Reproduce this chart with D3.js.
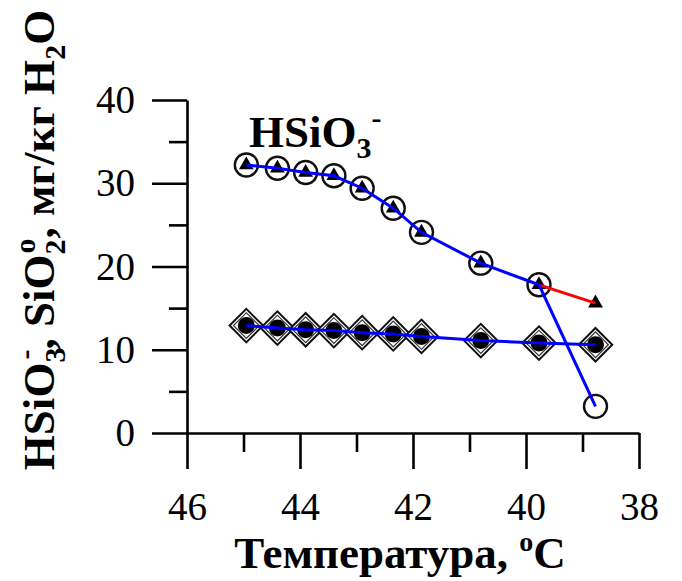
<!DOCTYPE html>
<html>
<head>
<meta charset="utf-8">
<script src="https://cdn.jsdelivr.net/npm/d3@7/dist/d3.min.js"></script>
<style>
  html, body { margin: 0; padding: 0; background: #fff; }
  svg { display: block; }
</style>
</head>
<body>
<svg id="chart" width="682" height="581"></svg>
<script>
// Temperature of each sample, °C
const temps = [44.95, 44.4, 43.9, 43.4, 42.9, 42.35, 41.85, 40.8, 39.77, 38.77];
// HSiO3- concentration, mg/kg H2O (open circles)
const hsio3Open = [32.2, 31.8, 31.3, 30.9, 29.4, 27.0, 24.1, 20.4, 17.8, 3.2];
// HSiO3- concentration, mg/kg H2O (filled triangles)
const hsio3Tri = [32.2, 31.8, 31.3, 30.9, 29.4, 27.0, 24.1, 20.4, 17.8, 15.6];
// SiO2° concentration, mg/kg H2O (diamonds)
const sio2 = [12.9, 12.6, 12.4, 12.3, 12.05, 11.9, 11.6, 11.1, 10.8, 10.6];

const xMajor = [46, 44, 42, 40, 38];
const xMinor = [45, 43, 41, 39];
const yMajor = [0, 10, 20, 30, 40];
const yMinor = [5, 15, 25, 35];

const FONT = "'Liberation Serif'";

const svg = d3.select("#chart");

const x = d3.scaleLinear().domain([46, 38]).range([187, 639]);
const y = d3.scaleLinear().domain([0, 40]).range([433, 100]);

const axisStroke = 2.6;

function styleAxis(g) {
  g.attr("font-family", null);
  g.selectAll("path.domain").attr("stroke", "#000").attr("stroke-width", axisStroke);
  g.selectAll(".tick line").attr("stroke", "#000").attr("stroke-width", axisStroke);
}

function styleTickText(sel) {
  sel.style("font-family", FONT).style("font-size", "39px").style("fill", "#000");
}

// X axis: minor then major ticks (pointing down)
const gxMinor = svg.append("g").attr("transform", `translate(0,${y(0)})`)
  .call(d3.axisBottom(x).tickValues(xMinor).tickSize(19).tickSizeOuter(0).tickFormat(""));
styleAxis(gxMinor);
gxMinor.select("path.domain").remove();

const gx = svg.append("g").attr("transform", `translate(0,${y(0)})`)
  .call(d3.axisBottom(x).tickValues(xMajor).tickSize(36).tickSizeOuter(0).tickFormat(d3.format("d")));
styleAxis(gx);
gx.selectAll(".tick text").attr("y", 87).attr("dy", null).call(styleTickText);

// Y axis: minor then major ticks (pointing left)
const gyMinor = svg.append("g").attr("transform", `translate(${x(46)},0)`)
  .call(d3.axisLeft(y).tickValues(yMinor).tickSize(18).tickSizeOuter(0).tickFormat(""));
styleAxis(gyMinor);
gyMinor.select("path.domain").remove();

const gy = svg.append("g").attr("transform", `translate(${x(46)},0)`)
  .call(d3.axisLeft(y).tickValues(yMajor).tickSize(35).tickSizeOuter(0).tickFormat(d3.format("d")));
styleAxis(gy);
gy.selectAll(".tick text").attr("x", -52).attr("dy", 12.5).call(styleTickText);

// Data points
const open = temps.map((t, i) => ({ t, v: hsio3Open[i] }));
const tri = temps.map((t, i) => ({ t, v: hsio3Tri[i] }));
const dia = temps.map((t, i) => ({ t, v: sio2[i] }));

// Diamond markers with a filled dot inside
const diamondOuter = d3.symbol().type(d3.symbolSquare).size(560);
const diamondInner = d3.symbol().type(d3.symbolSquare).size(330);
const dg = svg.append("g").selectAll("g").data(dia).join("g")
  .attr("transform", d => `translate(${x(d.t)},${y(d.v)}) rotate(45)`);
dg.append("path").attr("d", diamondOuter()).attr("fill", "#fff").attr("stroke", "#111").attr("stroke-width", 2);
dg.append("path").attr("d", diamondInner()).attr("fill", "#fff").attr("stroke", "#333").attr("stroke-width", 1.2);
dg.append("circle").attr("r", 8.5).attr("fill", "#000");

// Open circles
svg.append("g").selectAll("circle").data(open).join("circle")
  .attr("cx", d => x(d.t)).attr("cy", d => y(d.v)).attr("r", 11.5)
  .attr("fill", "none").attr("stroke", "#111").attr("stroke-width", 2.4);

// Filled triangles
const triSym = d3.symbol().type(d3.symbolTriangle).size(95);
svg.append("g").selectAll("path").data(tri).join("path")
  .attr("d", triSym())
  .attr("transform", d => `translate(${x(d.t)},${y(d.v)})`)
  .attr("fill", "#000");

// Lines
const line = d3.line().x(d => x(d.t)).y(d => y(d.v));
svg.append("path").datum(tri.slice(-2)).attr("d", line)
  .attr("fill", "none").attr("stroke", "#ff0000").attr("stroke-width", 3);
svg.append("path").datum(open).attr("d", line)
  .attr("fill", "none").attr("stroke", "#0000ff").attr("stroke-width", 3);
svg.append("path").datum(dia).attr("d", line)
  .attr("fill", "none").attr("stroke", "#0000ff").attr("stroke-width", 3);

function bold(sel, size) {
  return sel.style("font-family", FONT).style("font-size", size + "px")
    .style("font-weight", "bold").style("fill", "#000");
}

// Series label
const lab = svg.append("text").attr("x", 249).attr("y", 147).call(bold, 45);
lab.append("tspan").text("HSiO");
lab.append("tspan").style("font-size", "30px").attr("dy", 11).text("3");
lab.append("tspan").style("font-size", "30px").attr("dy", -30).text("-");

// X axis title
const xt = svg.append("text").attr("x", 400).attr("y", 568)
  .attr("text-anchor", "middle").call(bold, 45);
xt.append("tspan").text("Температура, ");
xt.append("tspan").style("font-size", "28px").attr("dy", -17).text("o");
xt.append("tspan").attr("dy", 17).text("C");

// Y axis title (superscripts sit above the subscripts)
const yt = svg.append("text")
  .attr("transform", "translate(54,240) rotate(-90)")
  .attr("text-anchor", "middle").call(bold, 45);
yt.append("tspan").text("HSiO");
yt.append("tspan").style("font-size", "30px").attr("dy", 11).text("3");
yt.append("tspan").style("font-size", "30px").attr("dy", -30).attr("dx", -12).text("-");
yt.append("tspan").attr("dy", 19).text(", SiO");
yt.append("tspan").style("font-size", "30px").attr("dy", 11).text("2");
yt.append("tspan").style("font-size", "30px").attr("dy", -30).attr("dx", -14).text("o");
yt.append("tspan").attr("dy", 19).text(", мг/кг H");
yt.append("tspan").style("font-size", "30px").attr("dy", 11).text("2");
yt.append("tspan").attr("dy", -11).text("O");
</script>
</body>
</html>
